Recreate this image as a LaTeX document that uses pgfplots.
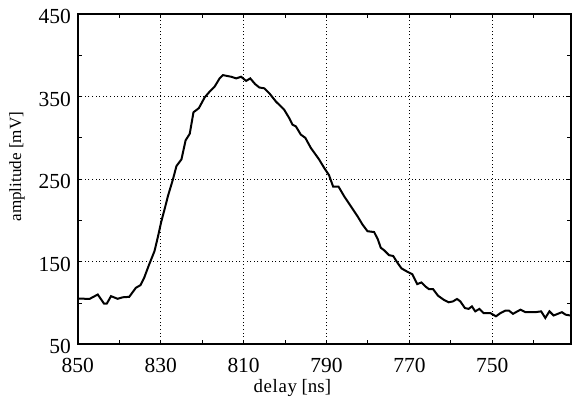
\documentclass[border=0pt]{standalone}
\usepackage{fontspec}
\setmainfont{Liberation Serif}
\usepackage{pgfplots}
\pgfplotsset{compat=1.18}
\begin{document}
\begin{tikzpicture}
\begin{axis}[
  scale only axis,
  width=247bp, height=165.5bp,
  x dir=reverse,
  xmin=731, xmax=850,
  ymin=50, ymax=450,
  xtick={850,830,810,790,770,750},
  xticklabels={850,830,810,790,770,750},
  minor xtick={840,820,800,780,760,740},
  ytick={50,150,250,350,450},
  yticklabels={50,150,250,350,450},
  minor ytick={100,200,300,400},
  tick align=inside,
  major tick length=2.2bp,
  minor tick length=2.2bp,
  tick style={black, line width=0.5bp},
  axis line style={line width=1bp},
  grid=major,
  major grid style={black, line width=0.35bp, dash pattern=on 0.5bp off 1.3bp},
  tick label style={font=\fontsize{10.8}{12}\selectfont},
  xticklabel style={yshift=-3.2bp},
  yticklabel style={yshift=-1.2bp},
  xlabel={d\kern0.3pt e\kern0.3pt l\kern0.3pt a\kern0.3pt y [ns]},
  ylabel={amplitude [mV]},
  xlabel style={font=\fontsize{9.5}{11}\selectfont, at={(axis description cs:0.435,0)}, anchor=north, yshift=-14bp},
  ylabel style={font=\fontsize{8.6}{10}\selectfont, at={(axis description cs:-0.1235,0.538)}, anchor=center},
]
\addplot[black, line width=1bp] coordinates {
(850,105.6) (847.2,105) (845.2,110.4) (843.7,99.5) (843,99.5) (842,108.4)
(840.4,105.2) (839.2,107) (837.6,107.6) (836,118.5) (834.9,121.7) (834,130.6)
(832.8,146.7) (831.5,163) (830.6,182) (829.9,198) (829,215) (828.3,229)
(827.1,249) (826.2,266) (825,274) (824,297) (823,305) (822.1,331)
(820.8,336) (819.4,349) (818.2,356) (817,362) (815.8,372) (815,376)
(813,374) (811.8,372) (810.6,374) (809.4,369) (808.4,372) (807.2,365)
(806.2,361) (805,360) (803.8,354) (802.2,344) (800.2,334) (799,324)
(798.2,316) (797.4,314) (796.2,304) (795.1,300) (793.8,288) (791.8,274)
(790.6,264) (789.4,255) (788.4,241) (787.1,241) (785.7,229) (784.1,217)
(782.5,205) (781.3,195) (780.1,187) (778.5,186) (777.6,177) (776.9,167)
(776.1,164) (774.9,158) (773.9,157) (772.9,149) (771.9,142) (770.5,138)
(769.3,135) (768.1,123) (767.1,125) (766.1,120) (765.3,117) (764.3,117)
(763.1,109) (761.7,104) (760.5,101) (759.5,102) (758.5,105) (757.7,102)
(756.6,94) (755.7,93) (754.9,96) (754.1,90) (753.1,93) (752.1,88)
(750.5,88) (749.1,84) (748,88) (746.8,91) (746,91) (745,87)
(743.2,92) (742,89) (739.6,89) (738.2,90) (737.2,82) (736.2,90)
(735.2,85) (733.2,89) (732.3,86) (731.2,85)
};
\end{axis}
\pgfresetboundingbox
\useasboundingbox ([shift={(-39bp,-27.5bp)}]current axis.south west) rectangle ([shift={(0.5bp,7bp)}]current axis.north east);
\end{tikzpicture}
\end{document}
